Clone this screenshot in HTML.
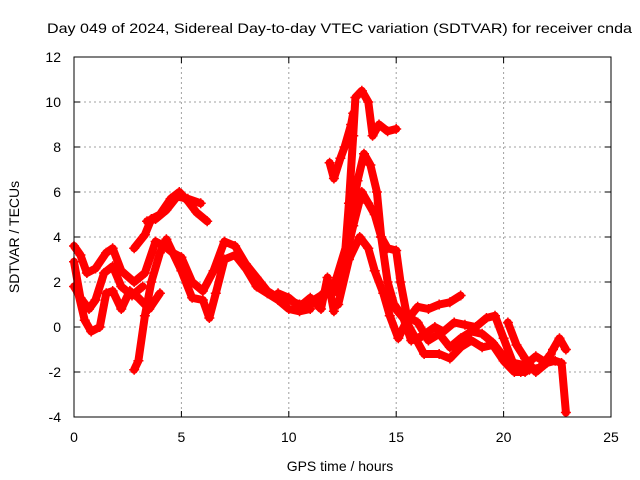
<!DOCTYPE html>
<html><head><meta charset="utf-8"><style>
body{margin:0;background:#fff;}
svg{display:block;font-family:"Liberation Sans",sans-serif;}
</style></head><body>
<svg id="chart" width="640" height="480" viewBox="0 0 640 480">
<rect width="640" height="480" fill="#fff"/>
<text x="47" y="33" font-size="14" textLength="585" lengthAdjust="spacingAndGlyphs">Day 049 of 2024, Sidereal Day-to-day VTEC variation (SDTVAR) for receiver cnda</text>
<text x="340" y="471" font-size="14" text-anchor="middle">GPS time / hours</text>
<text transform="translate(19,237) rotate(-90)" font-size="14" text-anchor="middle">SDTVAR / TECUs</text>
<g id="grid"></g>
<g id="ticks"></g>
<g id="series"></g>
<rect x="74" y="57" width="537" height="360" fill="none" stroke="#000" stroke-width="1"/>
</svg>
<script>
const xTicks=[0,5,10,15,20,25];
const yTicks=[-4,-2,0,2,4,6,8,10,12];
const trackA_h=[0,0.3,0.6,1.0,1.5,1.8,2.2,2.8,3.3,3.8,4.2,4.6,5.0,5.5,6.0,6.5,7.0,7.5,8.0,8.5,9,9.5,10,10.5,11,11.5,12];
const trackA_v=[3.6,3.2,2.4,2.6,3.3,3.5,2.5,2.0,2.4,3.8,3.6,3.3,3.1,2.0,1.6,2.5,3.8,3.6,2.8,2.2,1.6,1.3,1.2,1.0,1.1,1.4,1.8];
const trackB_h=[2.8,3.3,3.6,4.0,4.5,4.9,5.3,5.7,6.2];
const trackB_v=[3.5,4.1,4.8,5.0,5.7,6.0,5.6,5.1,4.7];
const trackB2_h=[3.4,3.8,4.3,4.8,5.3,5.9];
const trackB2_v=[4.7,4.8,5.2,5.8,5.7,5.5];
const trackC_h=[2.8,3.0,3.3,3.6,4.0,4.3,4.6,5.0,5.5,6.0,6.3,6.6,7.0,7.5,8.0,8.5,9,9.5,10,10.5,11];
const trackC_v=[-1.9,-1.5,0.5,2.0,3.3,3.9,3.3,2.5,1.3,1.2,0.4,1.5,3.0,3.2,2.6,1.8,1.5,1.2,0.8,0.7,0.8];
const trackD_h=[0,0.2,0.5,0.8,1.2,1.5,1.8,2.2,2.6,3.0,3.5,4.0];
const trackD_v=[1.8,1.5,0.3,-0.2,0.0,1.5,1.6,0.8,1.6,1.3,0.8,1.5];
const trackE_h=[0,0.3,0.7,1.0,1.4,1.8,2.2,2.7,3.2];
const trackE_v=[2.9,1.3,0.8,1.2,2.4,2.7,1.8,1.4,1.8];
const trackF_h=[11.8,12.3,12.6,12.8,13.0,13.1,13.4,13.7,13.9,14.2,14.6,15.0];
const trackF_v=[2.0,1.5,3.0,5.5,8.5,10.2,10.5,10.0,8.5,9.0,8.7,8.8];
const trackF2_h=[11.9,12.1,12.4,12.6,12.9,13.0];
const trackF2_v=[7.3,6.6,7.5,8.0,9.0,9.5];
const trackG_h=[12.0,12.8,13.2,13.5,13.8,14.1,14.3,14.6,15.0,15.2,15.5,16,16.5,17,17.5,18,18.5,19,19.5,20,20.5,21,21.5,22,22.4,22.7,22.9];
const trackG_v=[1.5,4.0,6.5,7.7,7.2,6.0,4.0,3.5,3.4,2.0,0.5,0.2,-0.6,-0.3,-0.9,-0.5,-0.2,-0.3,-0.7,-1.3,-1.6,-1.7,-1.3,-1.6,-1.5,-1.6,-3.8];
const trackH_h=[12.5,13.0,13.4,13.7,14.0,14.3,14.6,14.9,15.3,15.7,16.2,16.8,17.2,17.7,18.2,18.7,19.2,19.6,20.0,20.4,20.8,21.2,21.7,22.2];
const trackH_v=[2.5,4.5,6.0,5.5,5.0,4.0,2.0,1.0,0.5,-0.6,-0.4,0.0,-0.2,0.2,0.1,0.0,0.4,0.5,-0.5,-1.5,-2.0,-1.9,-1.8,-1.2];
const trackI_h=[12.3,12.8,13.3,13.7,14.0,14.4,14.7,15.1,15.5,16,16.5,17,17.5,18];
const trackI_v=[1.0,3.0,4.0,3.5,2.5,1.5,0.5,-0.5,0.3,0.9,0.8,1.0,1.1,1.4];
const trackJ_h=[14.8,15.5,16.3,17,17.5,18,18.5,19.0,19.5,20,20.5,21];
const trackJ_v=[1.0,0.2,-1.2,-1.2,-1.4,-0.9,-0.6,-0.9,-0.8,-1.5,-2.0,-2.0];
const trackK_h=[20.2,20.6,21.0,21.5,22.0,22.3,22.6,22.9];
const trackK_v=[0.2,-0.8,-1.4,-2.0,-1.6,-1.0,-0.5,-1.0];
const trackM_h=[9.5,10,10.5,11,11.5,11.8,12.1];
const trackM_v=[1.5,1.3,0.9,1.3,0.8,2.2,0.7];
const tracks=[[trackA_h,trackA_v],[trackB_h,trackB_v],[trackB2_h,trackB2_v],[trackC_h,trackC_v],[trackD_h,trackD_v],[trackE_h,trackE_v],[trackF_h,trackF_v],[trackF2_h,trackF2_v],[trackG_h,trackG_v],[trackH_h,trackH_v],[trackI_h,trackI_v],[trackJ_h,trackJ_v],[trackK_h,trackK_v],[trackM_h,trackM_v]];

const NS='http://www.w3.org/2000/svg';
const X0=74,X1=611,Y0=417,Y1=57;
function sx(h){return X0+(h-0)/(25-0)*(X1-X0);}
function sy(v){return Y0-(v-(-4))/(12-(-4))*(Y0-Y1);}
function mk(tag,attrs,parent){const e=document.createElementNS(NS,tag);for(const k in attrs)e.setAttribute(k,attrs[k]);parent.appendChild(e);return e;}
const grid=document.getElementById('grid'),ticks=document.getElementById('ticks'),series=document.getElementById('series');
xTicks.forEach(t=>{
  const x=sx(t);
  if(t>0&&t<25){const g=mk('line',{x1:x,x2:x,y1:Y1,y2:Y0,stroke:'#a0a0a0','stroke-dasharray':'2,3'},grid);
  
  }
  mk('line',{x1:x,x2:x,y1:Y0,y2:Y0-6,stroke:'#000'},ticks);
  mk('line',{x1:x,x2:x,y1:Y1,y2:Y1+6,stroke:'#000'},ticks);
  const l=mk('text',{x:x,y:Y0+25,'font-size':14,'text-anchor':'middle'},ticks);l.textContent=t;
  
  
});
yTicks.forEach(t=>{
  const y=sy(t);
  if(t>-4&&t<12){const g=mk('line',{x1:X0,x2:X1,y1:y,y2:y,stroke:'#a0a0a0','stroke-dasharray':'2,3'},grid);
  
  }
  mk('line',{x1:X0,x2:X0+6,y1:y,y2:y,stroke:'#000'},ticks);
  mk('line',{x1:X1,x2:X1-6,y1:y,y2:y,stroke:'#000'},ticks);
  const l=mk('text',{x:X0-13,y:y+5,'font-size':14,'text-anchor':'end'},ticks);l.textContent=t;
  
  
});
tracks.forEach(([hs,vs])=>{
  const pts=hs.map((h,i)=>sx(h).toFixed(1)+','+sy(vs[i]).toFixed(1)).join(' ');
  const pl=mk('polyline',{points:pts,fill:'none',stroke:'#ff0000','stroke-width':8,'stroke-linejoin':'round','stroke-linecap':'round'},series);
  
  
  hs.forEach((h,i)=>{
    const x=sx(h),y=sy(vs[i]);
    const p=mk('path',{d:`M${x-5},${y}H${x+5}M${x},${y-5}V${y+5}`,stroke:'#ff0000','stroke-width':1.5},series);
    
    
  });
});
</script>
</body></html>
